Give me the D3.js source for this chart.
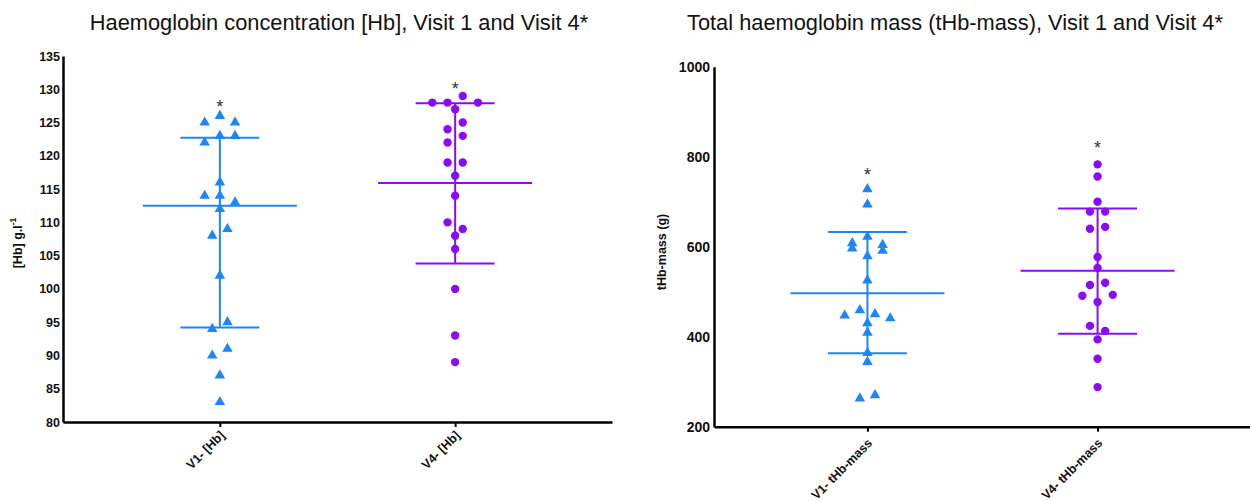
<!DOCTYPE html>
<html>
<head>
<meta charset="utf-8">
<script src="https://cdn.jsdelivr.net/npm/d3@7"></script>
<style>
  html, body { margin: 0; padding: 0; background: #fff; }
  svg { display: block; font-family: "Liberation Sans", Arial, sans-serif; }
  .axis path, .axis line { stroke: #000; }
  .axis text { fill: #111; font-weight: bold; }
</style>
</head>
<body>
<svg id="chart" width="1250" height="501"></svg>
<script>
// [Hb] panel
const hbCats = ["V1- [Hb]", "V4- [Hb]"];
const hbV1 = [125, 126, 125, 122, 123, 123, 116, 114, 114, 113, 112, 108, 109, 102, 94, 95, 90, 91, 87, 83];
const hbV4 = [128, 128, 129, 128, 127, 124, 125, 122, 123, 119, 119, 117, 114, 110, 109, 108, 106, 100, 93, 89];
const hbCentre = [112.5, 115.9];
const hbLow = [94.2, 103.8];
const hbHigh = [122.7, 127.9];
const hbStar = [128, 130.7];
const hbTicks = [80, 85, 90, 95, 100, 105, 110, 115, 120, 125, 130, 135];

// tHb-mass panel
const massCats = ["V1- tHb-mass", "V4- tHb-mass"];
const massV1 = [728, 694, 608, 622, 604, 596, 579, 591, 525, 447, 459, 450, 441, 430, 409, 364, 344, 263, 270];
const massV4 = [783, 756, 700, 678, 678, 640, 644, 577, 553, 515, 520, 491, 477, 493, 424, 413, 394, 351, 288];
const massCentre = [496.4, 546.7];
const massLow = [363, 406.7];
const massHigh = [632.7, 685];
const massStar = [768, 828];
const massTicks = [200, 400, 600, 800, 1000];

const BLUE = "#1b86f7", PURPLE = "#8a0cf5";
const svg = d3.select("#chart");

// spread points that sit on the same row (within a marker height) side by side
function layoutRows(values, y, step) {
  const out = [];
  let row = [];
  const flush = () => {
    row.forEach((v, i) => out.push({ v, dx: (i - (row.length - 1) / 2) * step }));
    row = [];
  };
  values.forEach(v => {
    if (row.length) {
      const ys = row.map(y).concat(y(v));
      if (d3.max(ys) - d3.min(ys) >= 8.5) flush();
    }
    row.push(v);
  });
  flush();
  return out;
}

function panel(cfg) {
  const y = d3.scaleLinear().domain(cfg.yDomain).range(cfg.yRange);
  const x = d3.scalePoint().domain(cfg.cats).range(cfg.xRange).padding(2 / 3);
  const g = svg.append("g");

  // title
  g.append("text")
    .attr("x", cfg.titleX).attr("y", 30)
    .attr("text-anchor", "middle")
    .attr("font-size", "21.8px").attr("fill", "#111")
    .text(cfg.title);

  // axes
  const yAx = g.append("g").attr("class", "axis")
    .attr("transform", `translate(${cfg.xRange[0]},0)`)
    .call(d3.axisLeft(y).tickValues(cfg.ticks).tickFormat(d3.format("d"))
      .tickSize(0).tickPadding(cfg.tickPad).tickSizeOuter(0));
  yAx.selectAll("text").attr("font-size", cfg.tickFont);
  yAx.select("path").attr("stroke-width", 2.5);

  const xAx = g.append("g").attr("class", "axis")
    .attr("transform", `translate(0,${cfg.yRange[0]})`)
    .call(d3.axisBottom(x).tickSize(5).tickSizeOuter(0));
  xAx.select("path").attr("stroke-width", 2.5);
  xAx.selectAll("line").attr("stroke-width", 2);
  xAx.selectAll("text")
    .attr("x", 0).attr("y", 0).attr("dy", "0.35em")
    .attr("font-size", "12.5px")
    .attr("text-anchor", "end")
    .attr("transform", `translate(2,${cfg.labelDrop}) rotate(-45)`);

  // y axis title
  const yl = g.append("text")
    .attr("transform", `translate(${cfg.yLabelX},${cfg.yLabelY}) rotate(-90)`)
    .attr("text-anchor", "middle").attr("dominant-baseline", "central")
    .attr("font-size", "12.5px").attr("font-weight", "bold").attr("fill", "#111")
    .text(cfg.yLabel);
  if (cfg.yLabelSup) {
    yl.append("tspan").attr("baseline-shift", "super").attr("font-size", "8.5px").text(cfg.yLabelSup);
  }

  // summary lines: long centre line and SD bar
  cfg.cats.forEach((c, i) => {
    const cx = x(c), col = cfg.colors[i];
    g.append("line")
      .attr("x1", cx).attr("x2", cx)
      .attr("y1", y(cfg.high[i])).attr("y2", y(cfg.low[i]))
      .attr("stroke", col).attr("stroke-width", 2);
    [cfg.high[i], cfg.low[i]].forEach(v => {
      g.append("line")
        .attr("x1", cx - 39.5).attr("x2", cx + 39.5)
        .attr("y1", y(v)).attr("y2", y(v))
        .attr("stroke", col).attr("stroke-width", 2);
    });
    g.append("line")
      .attr("x1", cx - 77).attr("x2", cx + 77)
      .attr("y1", y(cfg.centre[i])).attr("y2", y(cfg.centre[i]))
      .attr("stroke", col).attr("stroke-width", 2);

    // significance star
    g.append("text")
      .attr("x", cx).attr("y", y(cfg.star[i]) + 10)
      .attr("text-anchor", "middle")
      .attr("font-size", "18px").attr("fill", "#333")
      .text("*");
  });

  // V1 triangles
  g.selectAll(".tri")
    .data(layoutRows(cfg.v1, y, 15.2))
    .join("path")
    .attr("class", "tri")
    .attr("d", d3.symbol(d3.symbolTriangle, 48))
    .attr("transform", d => `translate(${x(cfg.cats[0]) + d.dx},${y(d.v)})`)
    .attr("fill", cfg.colors[0]);

  // V4 circles
  g.selectAll(".dot")
    .data(layoutRows(cfg.v4, y, 15.2))
    .join("circle")
    .attr("class", "dot")
    .attr("cx", d => x(cfg.cats[1]) + d.dx)
    .attr("cy", d => y(d.v))
    .attr("r", 4.2)
    .attr("fill", cfg.colors[1]);
}

panel({
  title: "Haemoglobin concentration [Hb], Visit 1 and Visit 4*",
  titleX: 339,
  cats: hbCats, v1: hbV1, v4: hbV4,
  centre: hbCentre, low: hbLow, high: hbHigh, star: hbStar, ticks: hbTicks,
  yDomain: [80, 135], yRange: [422, 56], xRange: [63, 612],
  tickFont: "12.5px", tickPad: 3, labelDrop: 11,
  yLabel: "[Hb] g.l", yLabelSup: "-1", yLabelX: 17.5, yLabelY: 243,
  colors: [BLUE, PURPLE]
});

panel({
  title: "Total haemoglobin mass (tHb-mass), Visit 1 and Visit 4*",
  titleX: 955,
  cats: massCats, v1: massV1, v4: massV4,
  centre: massCentre, low: massLow, high: massHigh, star: massStar, ticks: massTicks,
  yDomain: [200, 1000], yRange: [426.7, 66.7], xRange: [714, 1251],
  tickFont: "14px", tickPad: 4, labelDrop: 14,
  yLabel: "tHb-mass (g)", yLabelSup: null, yLabelX: 662, yLabelY: 252,
  colors: [BLUE, PURPLE]
});
</script>
</body>
</html>
